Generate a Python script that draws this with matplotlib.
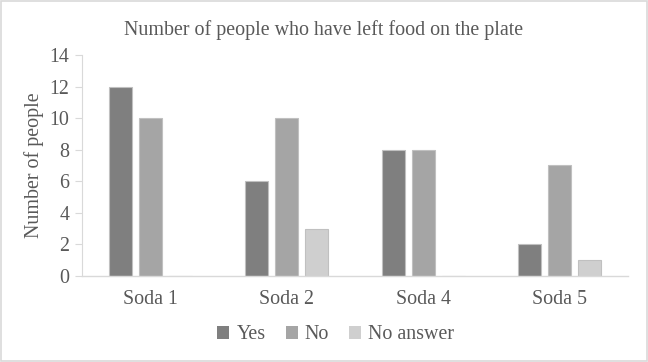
import numpy as np
import matplotlib
matplotlib.use("Agg")
import matplotlib.pyplot as plt
from matplotlib.patches import Rectangle

# data
categories = ["Soda 1", "Soda 2", "Soda 4", "Soda 5"]
yes = [12, 6, 8, 2]
no = [10, 10, 8, 7]
no_answer = [0, 3, 0, 1]
series_names = ["Yes", "No", "No answer"]
colors = ["#7f7f7f", "#a5a5a5", "#cfcfcf"]

plt.rcParams['font.family'] = ['Liberation Serif', 'DejaVu Serif']
FS = 14.4
TXT = "#595959"

fig = plt.figure(figsize=(6.48, 3.62), dpi=100)
ax = fig.add_axes([0.1265, 0.238, 0.8425, 0.61])

x = np.arange(len(categories))
width = 0.17
step = 0.22
for i, (vals, name, c) in enumerate(zip([yes, no, no_answer], series_names, colors)):
    ax.bar(x + (i - 1) * step, vals, width, color=c, edgecolor="#c0c0c0",
           linewidth=0.8, label=name)

ax.set_xlim(-0.5, len(categories) - 0.5)
ax.set_ylim(0, 14)
ax.set_yticks(range(0, 15, 2))
ax.set_xticks(x)
ax.set_xticklabels(categories)
ax.tick_params(axis="x", length=0, labelsize=FS, colors=TXT, pad=10)
ax.tick_params(axis="y", length=5, width=0.8, color="#d9d9d9", labelsize=FS,
               labelcolor=TXT, pad=4)
for s in ["top", "right"]:
    ax.spines[s].set_visible(False)
ax.spines["left"].set_color("#d9d9d9")
ax.spines["bottom"].set_color("#d9d9d9")
ax.spines["left"].set_linewidth(0.8)
ax.spines["bottom"].set_linewidth(1.0)

ax.set_ylabel("Number of people", fontsize=FS, color=TXT, labelpad=4)
fig.text(0.5, 0.918, "Number of people who have left food on the plate",
         ha="center", va="center", fontsize=FS, color=TXT)

leg = fig.legend(loc="center", bbox_to_anchor=(0.518, 0.075), ncol=3, frameon=False,
                 fontsize=FS, handlelength=0.6, handleheight=0.6, handletextpad=0.35,
                 columnspacing=1.0)
for t in leg.get_texts():
    t.set_color(TXT)
for h in leg.legend_handles:
    h.set_edgecolor("none")

fig.patches.append(Rectangle((0.002, 0.003), 0.996, 0.994, transform=fig.transFigure,
                             fill=False, edgecolor="#d9d9d9", linewidth=1.2))

fig.savefig("out.png", dpi=100)
